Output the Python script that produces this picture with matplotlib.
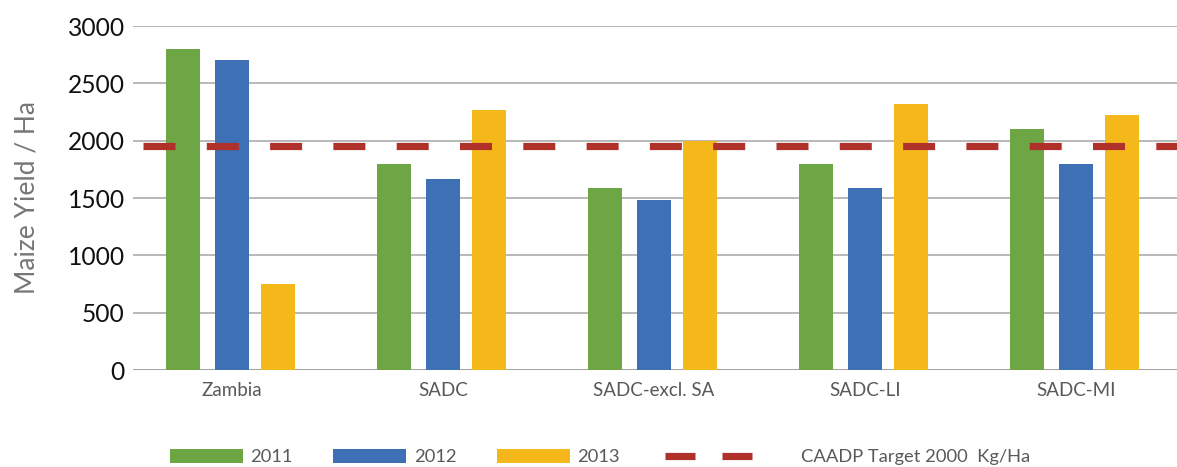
import matplotlib
matplotlib.use("Agg")
import matplotlib.pyplot as plt
from matplotlib.lines import Line2D
import numpy as np

# Maize yield (kg/ha) by region and year
regions = ["Zambia", "SADC", "SADC-excl. SA", "SADC-LI", "SADC-MI"]
years = ["2011", "2012", "2013"]
yield_2011 = [2800, 1800, 1590, 1800, 2100]
yield_2012 = [2700, 1670, 1480, 1590, 1800]
yield_2013 = [750, 2270, 2000, 2320, 2220]
target_value = 1950
target_label = "CAADP Target 2000  Kg/Ha"
y_ticks = [0, 500, 1000, 1500, 2000, 2500, 3000]

colors = ["#6EA646", "#3D70B4", "#F5B81A"]
target_color = "#B0302A"
font = "Lato"

plt.rcParams["font.family"] = [font, "DejaVu Sans"]

W, H = 1177, 467
fig = plt.figure(figsize=(W / 100, H / 100), dpi=100)
ax = fig.add_axes([133 / W, 1 - 370 / H, (W - 133) / W, (370 - 26) / H])

x = np.arange(len(regions))
offsets = [-0.232, 0.0, 0.218]
bar_w = 0.157
series = [yield_2011, yield_2012, yield_2013]
bars = []
for vals, off, col, yr in zip(series, offsets, colors, years):
    bars.append(ax.bar(x + off, vals, width=bar_w, color=col, label=yr, zorder=3))

# dashed target line across the full width
lw_px = 7.2
lw_pt = lw_px * 72 / 100
tline = ax.axhline(target_value, color=target_color, linewidth=lw_pt, zorder=4,
                   dash_capstyle="butt")
tline.set_linestyle((53.3 / lw_px, (32 / lw_px, 31.3 / lw_px)))

ax.set_ylim(0, 3000)
ax.set_xlim(-0.469, -0.469 + (W - 133) / 211)
ax.set_yticks(y_ticks)
ax.set_xticks(x)
ax.set_xticklabels(regions)
ax.grid(axis="y", color="#ABABAB", linewidth=1.2, zorder=0)
ax.set_axisbelow(True)
for s in ax.spines.values():
    s.set_visible(False)
ax.axhline(0, color="#9E9E9E", linewidth=1.2, zorder=2)

ax.tick_params(axis="y", length=0, pad=6, labelsize=17.7, labelcolor="#111111")
ax.tick_params(axis="x", length=0, pad=9, labelsize=13.5, labelcolor="#595959")

ax.set_ylabel("Maize Yield / Ha", fontsize=19, color="#767676", labelpad=20)

fs = 13.2
leg1 = fig.legend(handles=bars, labels=years, loc="center left",
                  bbox_to_anchor=(170 / W, 1 - 457 / H), ncol=3, frameon=False,
                  fontsize=fs, handlelength=73 / 18.3, handleheight=0.85,
                  handletextpad=0.4, columnspacing=2.2, borderpad=0, borderaxespad=0,
                  labelcolor="#595959")

proxy = Line2D([0], [0], color=target_color, linewidth=lw_pt,
               dash_capstyle="butt")
proxy.set_linestyle((0, (30 / lw_px, 27 / lw_px)))
leg2 = fig.legend(handles=[proxy], labels=[target_label], loc="center left",
                  bbox_to_anchor=(665 / W, 1 - 457 / H), frameon=False,
                  fontsize=fs, handlelength=87 / 18.3, handletextpad=49 / 18.3,
                  borderpad=0, borderaxespad=0, labelcolor="#595959")

fig.savefig("out.png", dpi=100)
